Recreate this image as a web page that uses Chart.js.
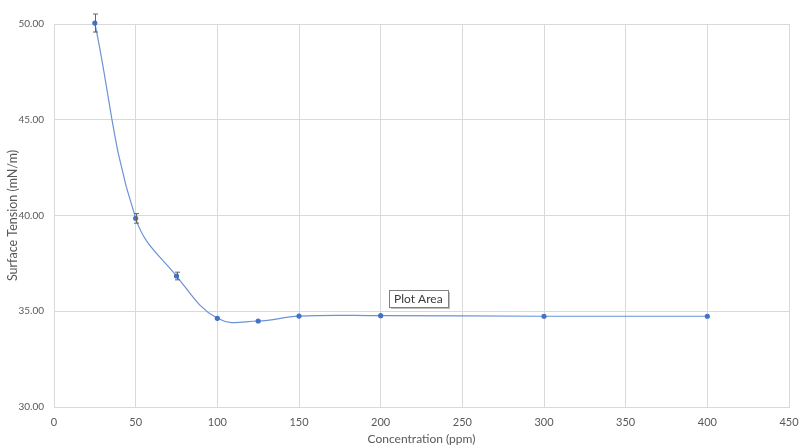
<!DOCTYPE html>
<html>
<head>
<meta charset="utf-8">
<script src="https://cdn.jsdelivr.net/npm/chart.js@4/dist/chart.umd.min.js"></script>
<style>
  html, body { margin: 0; padding: 0; background: #fff; }
  #wrap { width: 800px; height: 448px; }
</style>
</head>
<body>
<div id="wrap"><canvas id="chart"></canvas></div>
<script>
// values
const concentration = [25, 50, 75, 100, 125, 150, 200, 300, 400];
const tension = [50.05, 39.85, 36.84, 34.63, 34.49, 34.75, 34.77, 34.74, 34.74];
const tensionErr = [0.47, 0.25, 0.2, 0, 0, 0, 0, 0, 0];
const xTicks = [0, 50, 100, 150, 200, 250, 300, 350, 400, 450];
const yTicks = [30, 35, 40, 45, 50];

const FONT = 'Lato, "Open Sans", sans-serif';
const BLUE = '#4472C4';

// error bars drawn with the chart scales
const errorBars = {
  id: 'errorBars',
  afterDatasetsDraw(chart) {
    const { ctx, scales: { x, y } } = chart;
    ctx.save();
    ctx.strokeStyle = '#666';
    ctx.lineWidth = 1;
    concentration.forEach((c, i) => {
      const e = tensionErr[i];
      if (!e) return;
      const px = Math.round(x.getPixelForValue(c)) + 0.5;
      const top = y.getPixelForValue(tension[i] + e);
      const bot = y.getPixelForValue(tension[i] - e);
      ctx.beginPath();
      ctx.moveTo(px, top); ctx.lineTo(px, bot);
      ctx.moveTo(px - 2.5, top); ctx.lineTo(px + 2.5, top);
      ctx.moveTo(px - 2.5, bot); ctx.lineTo(px + 2.5, bot);
      ctx.stroke();
    });
    ctx.restore();
  }
};

// the "Plot Area" hover label seen in the reference
const plotAreaLabel = {
  id: 'plotAreaLabel',
  afterDraw(chart) {
    const { ctx, scales: { x, y } } = chart;
    const left = Math.round(x.getPixelForValue(205));
    const bottom = Math.round(y.getPixelForValue(35.2));
    ctx.save();
    ctx.font = '12px ' + FONT;
    const w = Math.round(ctx.measureText('Plot Area').width + 10);
    const h = 17;
    ctx.fillStyle = 'rgba(0,0,0,0.25)';
    ctx.fillRect(left + 2, bottom - h + 2, w, h);
    ctx.fillStyle = '#fff';
    ctx.fillRect(left, bottom - h, w, h);
    ctx.strokeStyle = '#808080';
    ctx.lineWidth = 1;
    ctx.strokeRect(left + 0.5, bottom - h + 0.5, w, h);
    ctx.fillStyle = '#3b3b3b';
    ctx.textBaseline = 'middle';
    ctx.fillText('Plot Area', left + 5, bottom - h / 2 + 1);
    ctx.restore();
  }
};

new Chart(document.getElementById('chart'), {
  type: 'scatter',
  data: {
    datasets: [{
      data: concentration.map((c, i) => ({ x: c, y: tension[i] })),
      showLine: true,
      borderColor: '#6b93d6',
      backgroundColor: BLUE,
      borderWidth: 1.2,
      tension: 0.4,
      pointRadius: 2,
      pointBorderColor: BLUE,
      pointHoverRadius: 2,
      clip: false
    }]
  },
  options: {
    responsive: true,
    maintainAspectRatio: false,
    animation: false,
    layout: { padding: { top: 24, right: 11, left: 0, bottom: 0 } },
    plugins: { legend: { display: false }, tooltip: { enabled: false } },
    scales: {
      x: {
        type: 'linear',
        min: 0, max: 450,
        afterBuildTicks: s => { s.ticks = xTicks.map(v => ({ value: v })); },
        afterFit: s => { s.height = 41; s.paddingLeft = 0; s.paddingRight = 0; },
        grid: { color: '#d9d9d9', drawTicks: false },
        border: { color: '#d9d9d9' },
        ticks: { color: '#595959', font: { family: FONT, size: 11 }, padding: 9, maxRotation: 0 },
        title: { display: true, text: 'Concentration (ppm)', color: '#595959', font: { family: FONT, size: 12 }, padding: { top: 0, bottom: 2 } }
      },
      y: {
        min: 30, max: 50,
        afterBuildTicks: s => { s.ticks = yTicks.map(v => ({ value: v })); },
        afterFit: s => { s.width = 54; s.paddingTop = 0; s.paddingBottom = 0; },
        grid: { color: '#d9d9d9', drawTicks: false },
        border: { color: '#d9d9d9' },
        ticks: { color: '#595959', font: { family: FONT, size: 10 }, padding: 10, callback: v => v.toFixed(2) },
        title: { display: true, text: 'Surface Tension (mN/m)', color: '#595959', font: { family: FONT, size: 12.5 }, padding: { top: 5, bottom: 0 } }
      }
    }
  },
  plugins: [errorBars, plotAreaLabel]
});
</script>
</body>
</html>
